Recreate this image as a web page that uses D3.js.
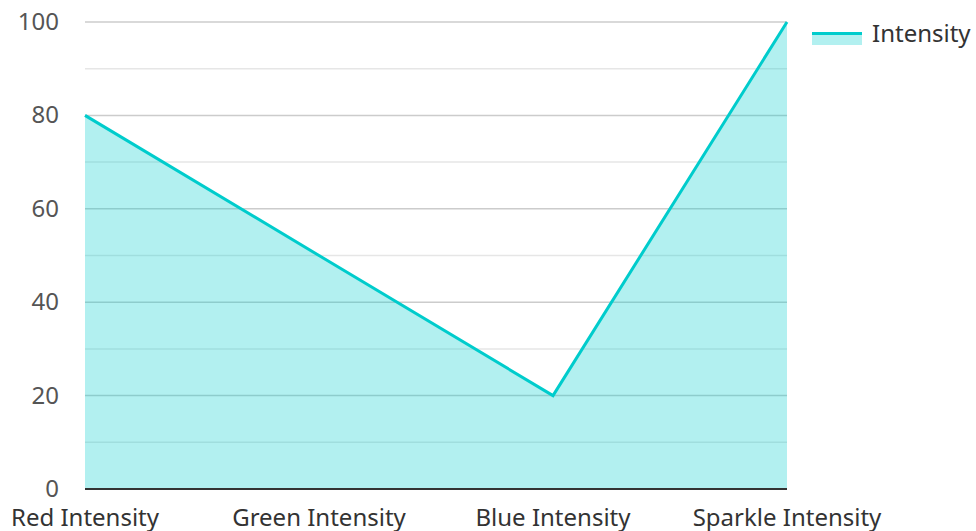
<!DOCTYPE html>
<html>
<head>
<meta charset="utf-8">
<script src="https://cdn.jsdelivr.net/npm/d3@7"></script>
<style>
  body { margin: 0; background: #fff; }
  text { font-family: "Noto Sans", "Open Sans", sans-serif; }
</style>
</head>
<body>
<div id="chart"></div>
<script>
var categories = ["Red Intensity", "Green Intensity", "Blue Intensity", "Sparkle Intensity"];
var values = [80, 50, 20, 100];
var seriesName = "Intensity";
var yTicks = [0, 20, 40, 60, 80, 100];
var yMinor = [10, 30, 50, 70, 90];

var width = 976, height = 531;
var plotLeft = 85, plotRight = 787, plotTop = 22, plotBottom = 489;

var svg = d3.select("#chart")
        .append("svg")
        .attr("width", width)
        .attr("height", height);

var x = d3.scalePoint()
        .domain(categories)
        .range([plotLeft, plotRight]);

var y = d3.scaleLinear()
        .domain([0, 100])
        .range([plotBottom, plotTop]);

var data = categories.map(function (c, i) { return { cat: c, val: values[i] }; });

// minor grid
svg.selectAll(".minor")
        .data(yMinor)
        .enter().append("line")
        .attr("x1", plotLeft).attr("x2", plotRight)
        .attr("y1", function (d) { return y(d); })
        .attr("y2", function (d) { return y(d); })
        .attr("stroke", "#e6e6e6")
        .attr("stroke-width", 1.5);

// major grid
svg.selectAll(".major")
        .data(yTicks.filter(function (d) { return d > 0; }))
        .enter().append("line")
        .attr("x1", plotLeft).attr("x2", plotRight)
        .attr("y1", function (d) { return y(d); })
        .attr("y2", function (d) { return y(d); })
        .attr("stroke", "#cccccc")
        .attr("stroke-width", 1.5);

var area = d3.area()
        .x(function (d) { return x(d.cat); })
        .y0(y(0))
        .y1(function (d) { return y(d.val); });

svg.append("path")
        .datum(data)
        .attr("d", area)
        .attr("fill", "rgba(0,204,204,0.3)");

var line = d3.line()
        .x(function (d) { return x(d.cat); })
        .y(function (d) { return y(d.val); });

svg.append("path")
        .datum(data)
        .attr("d", line)
        .attr("fill", "none")
        .attr("stroke", "#00cccc")
        .attr("stroke-width", 3);

// x axis line
svg.append("line")
        .attr("x1", plotLeft).attr("x2", plotRight)
        .attr("y1", plotBottom).attr("y2", plotBottom)
        .attr("stroke", "#333")
        .attr("stroke-width", 2);

// y tick labels
svg.selectAll(".ylab")
        .data(yTicks)
        .enter().append("text")
        .attr("x", 59)
        .attr("y", function (d) { return y(d) + 8; })
        .attr("text-anchor", "end")
        .attr("fill", "#555")
        .attr("font-size", "24px")
        .text(function (d) { return d; });

// x labels
svg.selectAll(".xlab")
        .data(categories)
        .enter().append("text")
        .attr("x", function (d) { return x(d); })
        .attr("y", 526)
        .attr("text-anchor", "middle")
        .attr("fill", "#333")
        .attr("font-size", "24px")
        .text(function (d) { return d; });

// legend
var legend = svg.append("g").attr("transform", "translate(812,32)");
legend.append("rect")
        .attr("x", 0).attr("y", 0)
        .attr("width", 50).attr("height", 13)
        .attr("fill", "rgba(0,204,204,0.3)");
legend.append("line")
        .attr("x1", 0).attr("x2", 50)
        .attr("y1", 1.5).attr("y2", 1.5)
        .attr("stroke", "#00cccc")
        .attr("stroke-width", 3);
legend.append("text")
        .attr("x", 60).attr("y", 10)
        .attr("fill", "#333")
        .attr("font-size", "24px")
        .text(seriesName);
</script>
</body>
</html>
